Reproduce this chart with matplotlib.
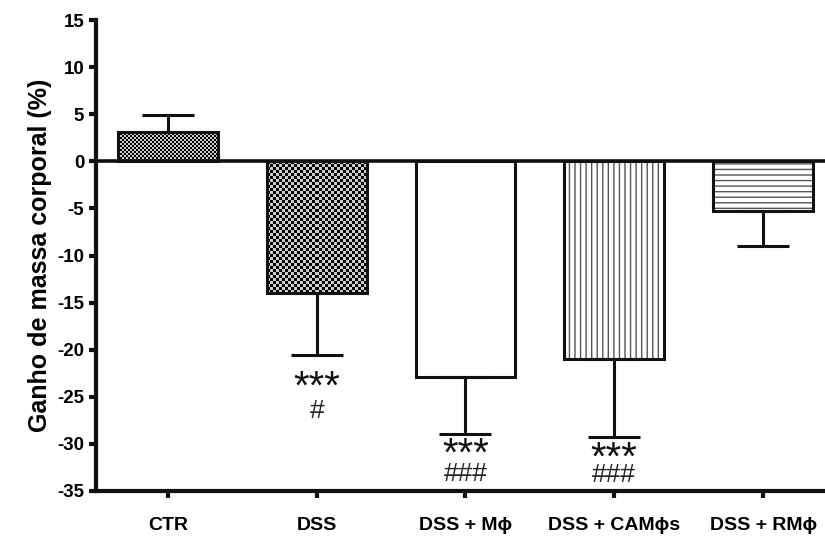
import matplotlib
matplotlib.use("Agg")
import matplotlib.pyplot as plt
import numpy as np

plt.rcParams['font.family'] = ['Liberation Sans', 'DejaVu Sans']
plt.rcParams['axes.unicode_minus'] = False
plt.rcParams['hatch.linewidth'] = 1.0
plt.rcParams['hatch.color'] = '#555555'

groups = ['CTR', 'DSS', 'DSS + M\u03d5', 'DSS + CAM\u03d5s', 'DSS + RM\u03d5']
means = [3.1, -14.0, -22.9, -21.0, -5.3]
sem = [1.8, 6.6, 6.0, 8.3, 3.7]
stars = ['', '***', '***', '***', '']
hashes = ['', '#', '###', '###', '']
# baselines of the significance marks
star_y = [0, -25.2, -32.3, -32.7, 0]
hash_y = [0, -27.3, -33.9, -34.0, 0]

fig = plt.figure(figsize=(8.25, 5.43), dpi=100)
ax = fig.add_axes([0.1164, 0.0958, 0.8836, 0.8672])

x = np.arange(len(groups))
w = 0.67
ax.set_xlim(-0.483, 4.416)
ax.set_ylim(-35, 15)

# white base, fill patterns, then outlines on top
base = ax.bar(x, means, w, color='white', zorder=1)
fills = [('check', 2), ('check', 3), (None, 0), ('|||', 0), ('---', 0)]

for b, (kind, cell) in zip(base, fills):
    if kind == 'check':
        x0, y0 = b.get_x(), b.get_y()
        bw, bh = b.get_width(), b.get_height()
        p0, p1 = ax.transData.transform([(x0, y0), (x0 + bw, y0 + bh)])
        nx = int(round(abs(p1[0] - p0[0]) / cell))
        ny = int(round(abs(p1[1] - p0[1]) / cell))
        grid = np.add.outer(np.arange(ny), np.arange(nx)) % 2
        im = ax.imshow(grid, cmap='gray', extent=(x0, x0 + bw, min(y0, y0 + bh), max(y0, y0 + bh)),
                       interpolation='nearest', aspect='auto', zorder=2, vmin=0, vmax=1.25)
        im.set_clip_path(b)
    elif kind is not None:
        ax.bar(b.get_x() + b.get_width() / 2, b.get_height(), w, color='none',
               hatch=kind, edgecolor='#555555', linewidth=0, zorder=2)

ax.bar(x, means, w, color='none', edgecolor='#111111', linewidth=2.2, zorder=3)

lower = [0 if m > 0 else s for m, s in zip(means, sem)]
upper = [s if m > 0 else 0 for m, s in zip(means, sem)]
ax.errorbar(x, means, yerr=[lower, upper], fmt='none', ecolor='#111111',
            elinewidth=2.2, capsize=19, capthick=2.2, zorder=3)

ax.set_xlim(-0.483, 4.416)
ax.set_ylim(-35, 15)
ax.axhline(0, color='#111111', linewidth=2.6, zorder=4)

for xi, s, h, sy, hy in zip(x, stars, hashes, star_y, hash_y):
    if s:
        ax.text(xi, sy, s, ha='center', va='baseline', fontsize=29, color='#111111')
        ax.text(xi, hy, h, ha='center', va='baseline', fontsize=19, color='#222222')

ax.spines['top'].set_visible(False)
ax.spines['right'].set_visible(False)
ax.spines['left'].set_linewidth(3)
ax.spines['bottom'].set_linewidth(3)
ax.spines['left'].set_color('#111111')
ax.spines['bottom'].set_color('#111111')

ax.set_yticks(np.arange(-35, 16, 5))
ax.set_xticks(x)
ax.set_xticklabels(groups)
ax.tick_params(axis='both', direction='out', length=5, width=3, color='#111111',
               labelsize=13.5)
ax.tick_params(axis='x', pad=14, labelsize=14)
for lab in ax.get_xticklabels() + ax.get_yticklabels():
    lab.set_fontweight('bold')

ax.set_ylabel('Ganho de massa corporal (%)', fontsize=18, fontweight='bold', labelpad=4)

fig.savefig('out.png', dpi=100)
